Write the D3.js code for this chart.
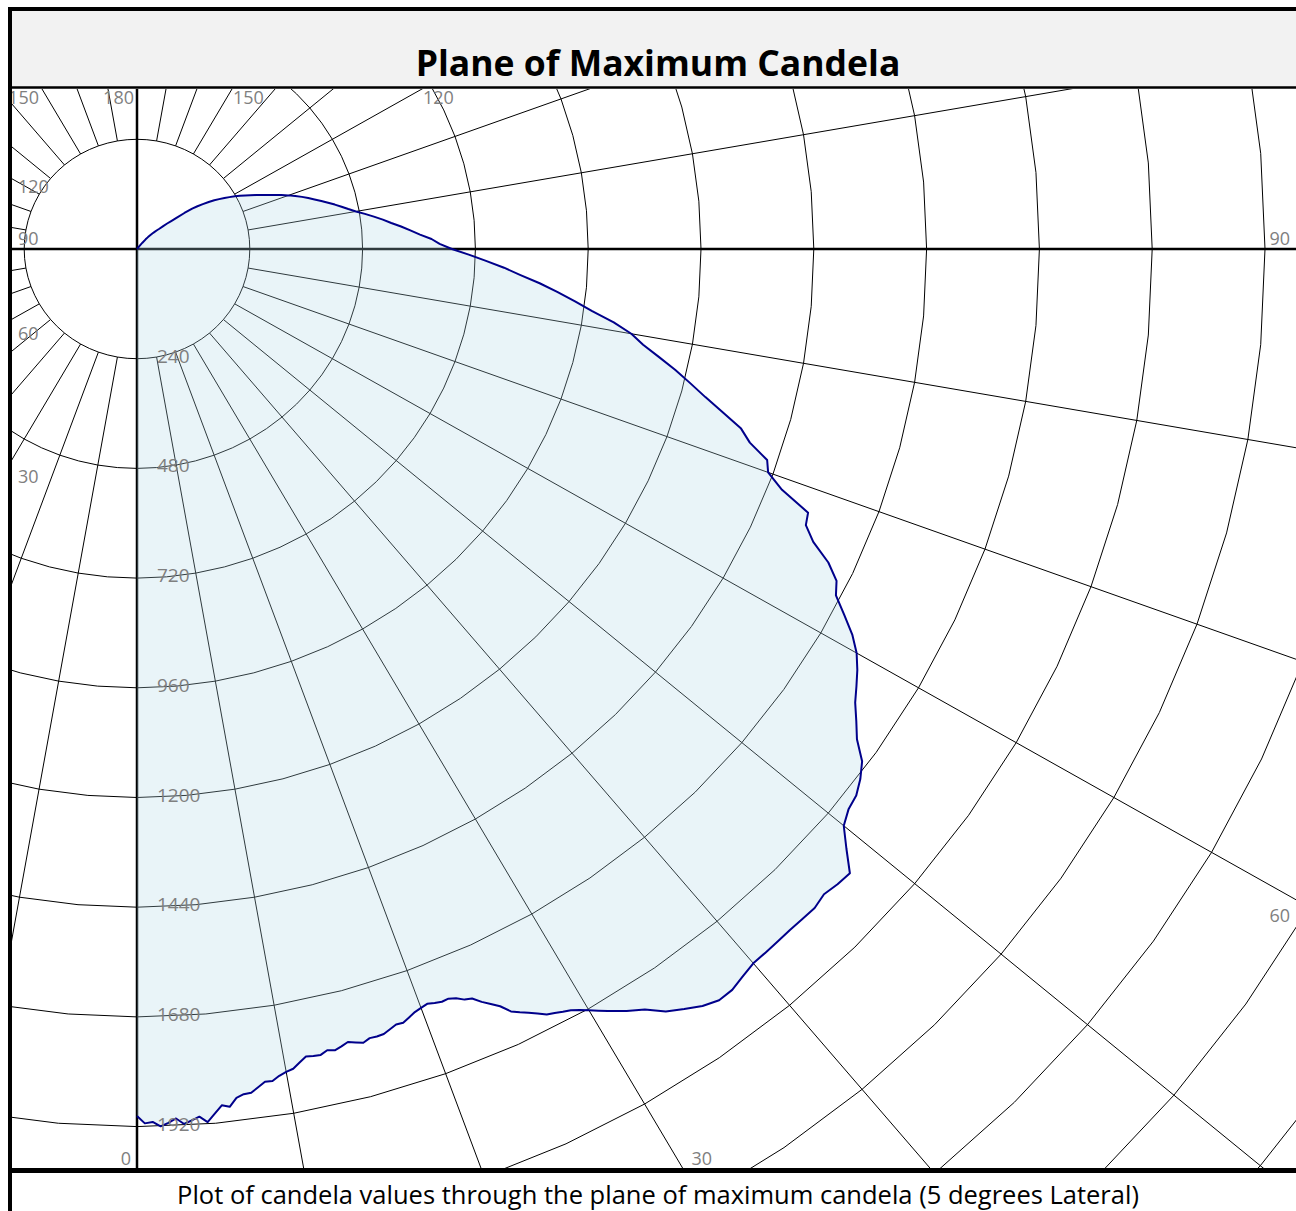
<!DOCTYPE html>
<html>
<head>
<meta charset="utf-8">
<script src="https://cdn.jsdelivr.net/npm/d3@7"></script>
<style>
  body { margin: 0; background: #ffffff; }
  svg text { font-family: "Open Sans", sans-serif; }
</style>
</head>
<body>
<svg id="svg" width="1296" height="1211"></svg>
<script>
//Data: vertical angle (deg, 0 = down) and candela in the plane of max candela
const ANGLES = [
  0, 0.5, 1, 1.5, 2, 2.5, 3, 3.5, 4, 4.5, 5, 5.5, 6, 6.5, 7, 7.5, 8, 8.5, 9, 9.5,
  10, 10.5, 11, 11.5, 12, 12.5, 13, 13.5, 14, 14.5, 15, 15.5, 16, 16.5, 17, 17.5, 18, 18.5, 19, 19.5,
  20, 20.5, 21, 21.5, 22, 22.5, 23, 23.5, 24, 24.5, 25, 25.5, 26, 26.5, 27, 27.5, 28, 28.5, 29, 29.5,
  30, 30.5, 31, 31.5, 32,
  33, 34, 35, 36, 37, 38, 39, 40, 41, 42, 43, 44, 45, 46, 47, 48, 49, 50,
  51, 52, 53, 54, 55, 56, 57, 58, 59, 60, 61, 62, 63, 64, 65, 66, 67, 68, 69, 70,
  71, 72, 73, 74, 75, 76, 77, 78, 79, 80, 81, 82, 83, 84, 85, 86, 87, 88, 89, 90,
  91, 92, 93, 94, 95, 96, 97, 98, 99, 100, 101, 102, 103, 104, 105, 106, 107, 108, 109, 110,
  111, 112, 113, 114, 115, 116, 117, 118, 119, 120, 121, 122, 123, 124, 125, 126, 127, 128, 129, 130,
  131, 132, 133, 134, 135, 136, 137, 138, 139, 140, 141, 142, 150, 160, 170, 180
];
const CANDELA = [
  1897, 1913, 1910, 1920, 1913, 1904, 1917, 1910, 1903, 1916, 1899, 1882, 1887, 1869, 1863, 1862, 1852, 1842, 1843, 1834,
  1828, 1824, 1813, 1803, 1805, 1806, 1799, 1803, 1798, 1792, 1797, 1802, 1796, 1797, 1796, 1790, 1784, 1785, 1778, 1771,
  1767, 1763, 1767, 1770, 1769, 1774, 1784, 1788, 1803, 1815, 1828, 1848, 1858, 1867, 1877, 1888, 1893, 1899, 1904, 1913,
  1923, 1934, 1945, 1955, 1966,
  1984, 2012, 2030, 2047, 2058, 2057, 2048, 2040, 2039, 2038, 2037, 2038, 2039, 2032, 2038, 2041, 2000, 1963,
  1948, 1942, 1927, 1907, 1870, 1846, 1822, 1805, 1788, 1768, 1740, 1704, 1669, 1656, 1623, 1575, 1546, 1540, 1470, 1429,
  1418, 1371, 1344, 1297, 1252, 1213, 1175, 1135, 1097, 1068, 1027, 978, 939, 899, 860, 818, 782, 743, 706, 670,
  644, 627, 603, 583, 564, 544, 527, 509, 491, 473, 458, 445, 432, 419, 406, 393, 381, 369, 356, 343,
  329, 315, 303, 291, 279, 268, 258, 248, 238, 227, 217, 206, 196, 184, 171, 159, 147, 128, 108, 95,
  85, 75, 65, 59, 53, 47, 41, 35, 28, 18, 8, 0, 0, 0, 0, 0
];

//Grid definitions
const RING_STEP = 240;
const RINGS = d3.range(240, 4801, 240);
const RING_LABELS = [240, 480, 720, 960, 1200, 1440, 1680, 1920];
const SPOKES = [10, 20, 30, 40, 50, 60, 70, 80, 100, 110, 120, 130, 140, 150, 160, 170];
const ANGLE_LABELS_RIGHT = [0, 30, 60, 90, 120, 150, 180];
const ANGLE_LABELS_LEFT = [30, 60, 90, 120, 150];

const TITLE = "Plane of Maximum Candela";
const CAPTION = "Plot of candela values through the plane of maximum candela (5 degrees Lateral)";

//Layout
const CX = 137, CY = 249;
const PL = 12, PT = 89, PR = 1306, PB = 1168, VIS_R = 1296;

const rx = d3.scaleLinear().domain([0, RING_STEP]).range([0, 112.8]);
const ry = d3.scaleLinear().domain([0, RING_STEP]).range([0, 109.7]);

function pt(theta, cd, side) {
  const a = theta * Math.PI / 180;
  return [CX + side * rx(cd) * Math.sin(a), CY + ry(cd) * Math.cos(a)];
}

const svg = d3.select("svg");

//Title box
svg.append("rect").attr("x", 10).attr("y", 8).attr("width", 1300).attr("height", 80).attr("fill", "#f2f2f2");
svg.append("text")
  .attr("x", 658).attr("y", 76)
  .attr("text-anchor", "middle")
  .attr("font-size", 35.5).attr("font-weight", "bold")
  .attr("fill", "#000")
  .text(TITLE);

//Plot area
svg.append("clipPath").attr("id", "plotclip")
  .append("rect").attr("x", PL).attr("y", PT).attr("width", PR - PL).attr("height", PB - PT);

const plot = svg.append("g").attr("clip-path", "url(#plotclip)");

//Rings (polylines with vertices every 5 degrees)
const ringAngles = d3.range(0, 360, 5);
const ringLine = d3.line().curve(d3.curveLinearClosed);
plot.selectAll(".ring")
  .data(RINGS)
  .enter().append("path")
  .attr("class", "ring")
  .attr("d", (r) => ringLine(ringAngles.map((a) => pt(a, r, 1))))
  .attr("fill", "none")
  .attr("stroke", "#000")
  .attr("stroke-width", 1);

//Spokes on both halves
const spokeData = [];
SPOKES.forEach((a) => { spokeData.push([a, 1]); spokeData.push([a, -1]); });
plot.selectAll(".spoke")
  .data(spokeData)
  .enter().append("line")
  .attr("class", "spoke")
  .attr("x1", (d) => pt(d[0], 240, d[1])[0])
  .attr("y1", (d) => pt(d[0], 240, d[1])[1])
  .attr("x2", (d) => pt(d[0], 8000, d[1])[0])
  .attr("y2", (d) => pt(d[0], 8000, d[1])[1])
  .attr("stroke", "#000")
  .attr("stroke-width", 1);

//Main axes
plot.append("line").attr("x1", CX).attr("x2", CX).attr("y1", PT).attr("y2", PB)
  .attr("stroke", "#000").attr("stroke-width", 2.5);
plot.append("line").attr("x1", PL).attr("x2", PR).attr("y1", CY).attr("y2", CY)
  .attr("stroke", "#000").attr("stroke-width", 2.5);

//Candela curve
const pts = ANGLES.map((a, i) => pt(a, CANDELA[i], 1));
const curve = d3.line();
plot.append("path")
  .attr("d", curve(pts) + "Z")
  .attr("fill", "#add8e6")
  .attr("fill-opacity", 0.27)
  .attr("stroke", "none");
plot.append("path")
  .attr("d", curve(pts))
  .attr("fill", "none")
  .attr("stroke", "#00008b")
  .attr("stroke-width", 2)
  .attr("stroke-linejoin", "round");

//Ring labels along the 0 axis
plot.selectAll(".rlabel")
  .data(RING_LABELS)
  .enter().append("text")
  .attr("class", "rlabel")
  .attr("x", CX + 20)
  .attr("y", (r) => pt(0, r, 1)[1] + 4)
  .attr("font-size", 19)
  .attr("fill", "#7f7f7f")
  .text((r) => r);

//Angle labels where spokes leave the plot
function edgeHit(theta, side) {
  const a = theta * Math.PI / 180;
  const dx = side * Math.sin(a) * (112.8 / 109.7), dy = Math.cos(a);
  let best = { t: Infinity, edge: null };
  const test = (t, edge) => { if (t > 0 && t < best.t) best = { t: t, edge: edge }; };
  if (dx > 1e-9) test((VIS_R - CX) / dx, "right");
  if (dx < -1e-9) test((PL - CX) / dx, "left");
  if (dy > 1e-9) test((PB - CY) / dy, "bottom");
  if (dy < -1e-9) test((PT - CY) / dy, "top");
  return { x: CX + dx * best.t, y: CY + dy * best.t, edge: best.edge };
}

const angleLabels = ANGLE_LABELS_RIGHT.map((a) => [a, 1]).concat(ANGLE_LABELS_LEFT.map((a) => [a, -1]));
angleLabels.forEach((d) => {
  const theta = d[0], side = d[1];
  const h = edgeHit(theta, side);
  let x, y, anchor;
  if (h.edge === "top") {
    y = PT + 15;
    if (side > 0 && theta < 180) { x = h.x + 1; anchor = "start"; }
    else { x = h.x - 3; anchor = "end"; }
  } else if (h.edge === "bottom") {
    y = PB - 3;
    if (theta === 0) { x = h.x - 6; anchor = "end"; }
    else { x = h.x + 9; anchor = "start"; }
  } else if (h.edge === "left") {
    x = PL + 6; anchor = "start";
    if (theta === 90) y = h.y - 4;
    else if (theta > 90) y = h.y + 14;
    else y = h.y + 17 + 8 * Math.cos(theta * Math.PI / 180);
  } else {
    x = VIS_R - 6; anchor = "end";
    y = theta === 90 ? h.y - 4 : h.y + 22;
  }
  svg.append("text")
    .attr("x", x).attr("y", y)
    .attr("text-anchor", anchor)
    .attr("font-size", 18)
    .attr("fill", "#7f7f7f")
    .text(theta);
});

//Frame lines
svg.append("line").attr("x1", 10).attr("x2", 1310).attr("y1", 87.5).attr("y2", 87.5)
  .attr("stroke", "#000").attr("stroke-width", 2.5);
svg.append("line").attr("x1", 10).attr("x2", 1310).attr("y1", 1170.5).attr("y2", 1170.5)
  .attr("stroke", "#000").attr("stroke-width", 5);
svg.append("rect").attr("x", 10).attr("y", 9).attr("width", 1300).attr("height", 1230)
  .attr("fill", "none").attr("stroke", "#000").attr("stroke-width", 4);

//Caption
svg.append("text")
  .attr("x", 658).attr("y", 1204)
  .attr("text-anchor", "middle")
  .attr("font-size", 25.5)
  .attr("fill", "#000")
  .text(CAPTION);
</script>
</body>
</html>
